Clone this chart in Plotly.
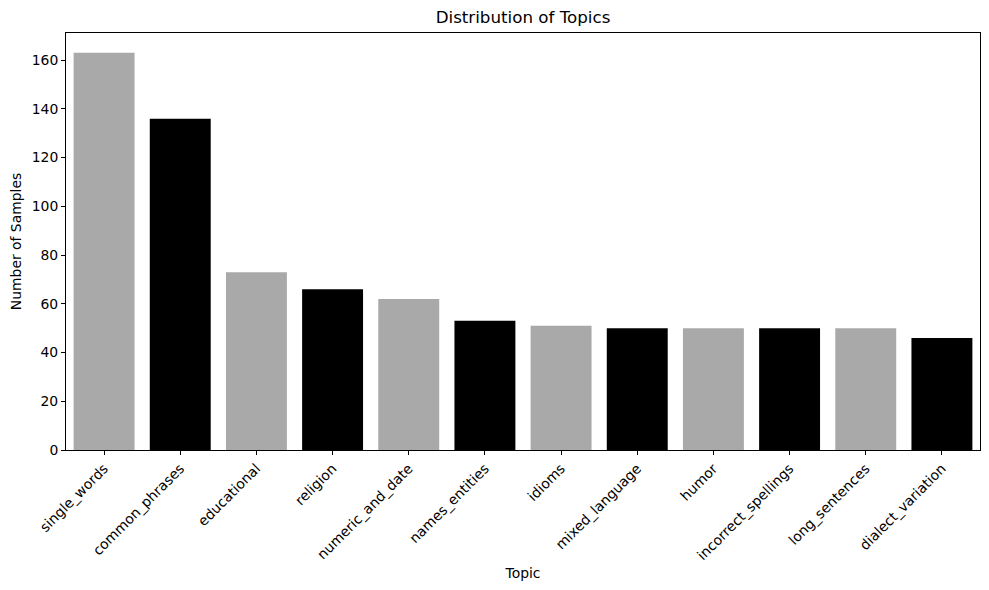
import plotly.graph_objects as go

topics = ["single_words", "common_phrases", "educational", "religion", "numeric_and_date",
          "names_entities", "idioms", "mixed_language", "humor", "incorrect_spellings",
          "long_sentences", "dialect_variation"]
counts = [163, 136, 73, 66, 62, 53, 51, 50, 50, 50, 50, 46]
palette = ["#A9A9A9", "#000000"]
bar_colors = [palette[i % 2] for i in range(len(topics))]
y_ticks = [0, 20, 40, 60, 80, 100, 120, 140, 160]

font_family = "DejaVu Sans"

fig = go.Figure(go.Bar(
    x=topics, y=counts, marker=dict(color=bar_colors, line=dict(width=0)),
    width=0.8, hoverinfo="skip",
))

axis_common = dict(
    showline=True, linecolor="black", linewidth=1, mirror=True,
    ticks="outside", ticklen=4, tickwidth=1, tickcolor="black",
    showgrid=False, zeroline=False, automargin=False,
    tickfont=dict(family=font_family, size=13.9, color="black"),
)

fig.update_layout(
    width=989, height=590,
    margin=dict(l=66, r=9, t=33, b=140),
    paper_bgcolor="white", plot_bgcolor="white",
    font=dict(family=font_family, size=13.9, color="black"),
    title=dict(text="Distribution of Topics", x=0.5, xanchor="center",
               xref="paper", yref="container", y=1 - 17 / 590, yanchor="middle",
               automargin=False,
               font=dict(family=font_family, size=16.7, color="black")),
    showlegend=False,
    bargap=0.2,
)
fig.update_xaxes(**axis_common, range=[-0.5, 11.5], tickangle=-45,
                 title=dict(text="Topic", standoff=6,
                            font=dict(family=font_family, size=13.9, color="black")))
fig.update_yaxes(**axis_common, range=[0, 171.15], tickvals=y_ticks,
                 title=dict(text="Number of Samples", standoff=6,
                            font=dict(family=font_family, size=13.9, color="black")))

fig.write_html("out.html", config={"displayModeBar": False, "staticPlot": True},
               post_script="document.body.style.margin='0';document.body.style.overflow='hidden';")
